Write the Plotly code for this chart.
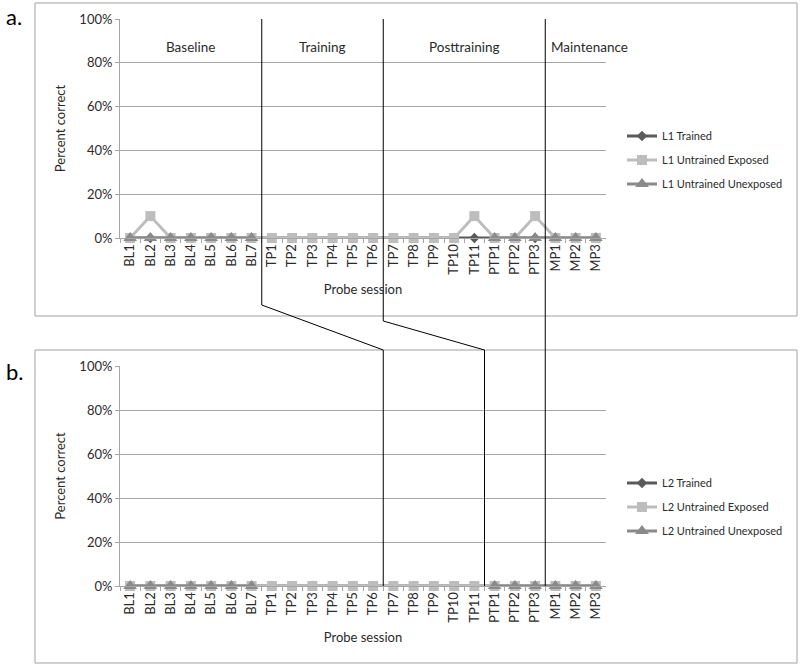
from plotly.graph_objects import Figure, Scatter

# donnees
sessions = ["BL1", "BL2", "BL3", "BL4", "BL5", "BL6", "BL7",
	"TP1", "TP2", "TP3", "TP4", "TP5", "TP6", "TP7", "TP8", "TP9", "TP10", "TP11",
	"PTP1", "PTP2", "PTP3", "MP1", "MP2", "MP3"]

l1_trained = [0] * 24
l1_exposed = [0, 10, 0, 0, 0, 0, 0,
	0, 0, 0, 0, 0, 0, 0, 0, 0, 0, 10,
	0, 0, 10, 0, 0, 0]
l1_unexposed = [0, 0, 0, 0, 0, 0, 0,
	None, None, None, None, None, None, None, None, None, None, None,
	0, 0, 0, 0, 0, 0]

l2_trained = [0] * 24
l2_exposed = [0] * 24
l2_unexposed = [0, 0, 0, 0, 0, 0, 0,
	None, None, None, None, None, None, None, None, None, None, None,
	0, 0, 0, 0, 0, 0]

y_ticks = [0, 20, 40, 60, 80, 100]
y_labels = ["0%", "20%", "40%", "60%", "80%", "100%"]

phases = ["Baseline", "Training", "Posttraining", "Maintenance"]
phase_len_l1 = [7, 6, 8, 3]
phase_len_l2 = [13, 5, 3, 3]

W, H = 801, 668
FONT = "Lato"
TXT = "#2b2b2b"
GRID = "#a6a6a6"

def py(p):
	# pixel (depuis le haut) -> coordonnee paper
	return 1 - p / H

def bounds(lens):
	b = []
	s = 0
	for n in lens[:-1]:
		s += n
		b.append(s - 0.5)
	return b

b1 = bounds(phase_len_l1)
b2 = bounds(phase_len_l2)

fig = Figure()

styles = [
	("#5a5a5a", "diamond", 8),
	("#bdbdbd", "square", 10),
	("#8a8a8a", "triangle-up", 12),
]

def add_series(names, series, xa, ya, leg):
	for i in range(3):
		col, sym, sz = styles[i]
		fig.add_trace(Scatter(
			x=sessions, y=series[i], name=names[i],
			xaxis=xa, yaxis=ya, legend=leg, legendgroup=leg + str(i),
			mode="lines+markers", cliponaxis=False,
			line=dict(color=col, width=3),
			marker=dict(color=col, symbol=sym, size=sz),
		))

add_series(["L1 Trained", "L1 Untrained Exposed", "L1 Untrained Unexposed"],
	[l1_trained, l1_exposed, l1_unexposed], "x", "y", "legend")
add_series(["L2 Trained", "L2 Untrained Exposed", "L2 Untrained Unexposed"],
	[l2_trained, l2_exposed, l2_unexposed], "x2", "y2", "legend2")

xdom = [120 / W, 606 / W]
top_dom = [py(238), py(19)]
bot_dom = [py(586), py(366)]

def xaxis(anchor):
	return dict(
		domain=xdom, anchor=anchor, type="category", range=[-0.5, 23.5],
		automargin=False,
		tickangle=-90, ticks="outside", tickson="boundaries", ticklen=4,
		tickcolor=GRID, showline=True, linecolor=GRID, showgrid=False,
		tickfont=dict(size=13, color=TXT),
		title=dict(text="Probe session", font=dict(size=13, color=TXT), standoff=10),
	)

def yaxis(dom, anchor):
	return dict(
		domain=dom, anchor=anchor, range=[0, 100], automargin=False,
		tickvals=y_ticks, ticktext=y_labels,
		ticks="outside", ticklen=4, tickcolor=GRID,
		showline=True, linecolor=GRID, gridcolor=GRID, zeroline=False,
		tickfont=dict(size=13, color=TXT),
		title=dict(text="Percent correct", font=dict(size=13, color=TXT), standoff=10),
	)

def legend(ymid):
	return dict(
		x=622 / W, xanchor="left", y=py(ymid), yanchor="middle",
		traceorder="grouped", tracegroupgap=5, itemwidth=30,
		font=dict(size=11, color=TXT), bgcolor="rgba(0,0,0,0)",
	)

shapes = []
# cadres des deux panneaux
for t, b in [(3, 316), (350, 663)]:
	shapes.append(dict(type="rect", xref="paper", yref="paper",
		x0=35 / W, x1=797 / W, y0=py(b), y1=py(t),
		line=dict(color="#a0a0a0", width=1)))

# lignes de phase (relient les deux graphes)
bends = [305, 321]
for i in range(2):
	xa, xb = b1[i], b2[i]
	shapes.append(dict(type="line", xref="x", yref="paper",
		x0=xa, x1=xa, y0=py(19), y1=py(bends[i]), line=dict(color="black", width=1)))
	shapes.append(dict(type="line", xref="x", yref="paper",
		x0=xa, x1=xb, y0=py(bends[i]), y1=py(350), line=dict(color="black", width=1)))
	shapes.append(dict(type="line", xref="x", yref="paper",
		x0=xb, x1=xb, y0=py(350), y1=py(586), line=dict(color="black", width=1)))
shapes.append(dict(type="line", xref="x", yref="paper",
	x0=b1[2], x1=b1[2], y0=py(19), y1=py(586), line=dict(color="black", width=1)))

annotations = [
	dict(text="a.", xref="paper", yref="paper", x=4 / W, y=py(17), xanchor="left",
		yanchor="middle", showarrow=False, font=dict(size=22, color="black", family=FONT)),
	dict(text="b.", xref="paper", yref="paper", x=4 / W, y=py(372), xanchor="left",
		yanchor="middle", showarrow=False, font=dict(size=22, color="black", family=FONT)),
]
edges = [-0.5] + b1 + [23.5]
for i in range(4):
	if i < 3:
		xc, anc, sh = (edges[i] + edges[i + 1]) / 2, "center", 0
	else:
		xc, anc, sh = edges[i], "left", 4
	annotations.append(dict(text=phases[i], xref="x", yref="paper", x=xc, xshift=sh,
		y=py(47), xanchor=anc, yanchor="middle", showarrow=False,
		font=dict(size=13.5, color=TXT)))

fig.update_layout(
	width=W, height=H, margin=dict(l=0, r=0, t=0, b=0),
	paper_bgcolor="white", plot_bgcolor="white",
	font=dict(family=FONT, color=TXT),
	xaxis=xaxis("y"), yaxis=yaxis(top_dom, "x"),
	xaxis2=xaxis("y2"), yaxis2=yaxis(bot_dom, "x2"),
	legend=legend(160), legend2=legend(507),
	shapes=shapes, annotations=annotations,
)

# pas de marge autour de la page, pas de barre d'outils
fig.write_html("out.html", config={"displayModeBar": False},
	post_script="document.body.style.margin = '0';")
